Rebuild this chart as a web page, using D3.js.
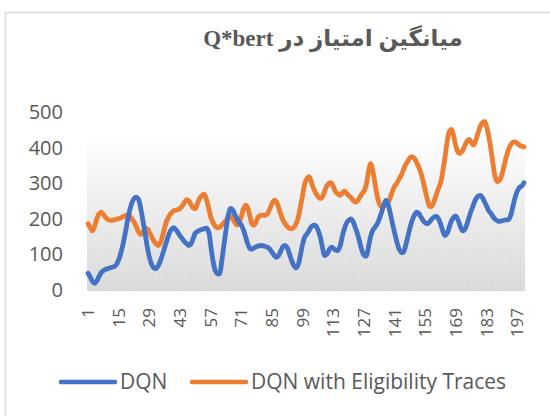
<!DOCTYPE html>
<html>
<head>
<meta charset="utf-8">
<script src="https://cdn.jsdelivr.net/npm/d3@7"></script>
<style>
  body { margin: 0; background: #fff; }
  svg { display: block; }
</style>
</head>
<body>
<div id="chart"></div>
<script>
var svgWidth = 550;
var svgHeight = 416;

// Chart values
var titleText = "میانگین امتیاز در Q*bert";
var seriesNames = ["DQN", "DQN with Eligibility Traces"];
var categories = d3.range(1, 201);
var yTicks = [0, 100, 200, 300, 400, 500];
var xTickLabels = [1, 15, 29, 43, 57, 71, 85, 99, 113, 127, 141, 155, 169, 183, 197];

var dqn = [
  47, 36, 24, 19, 26, 38, 49, 55, 58, 60,
  62, 64, 66, 72, 85, 105, 130, 160, 195, 224,
  245, 257, 261, 255, 230, 196, 160, 122, 92, 72,
  62, 60, 68, 82, 100, 120, 140, 158, 170, 175,
  170, 162, 152, 144, 136, 130, 125, 130, 145, 160,
  165, 168, 170, 172, 174, 165, 125, 83, 56, 46,
  46, 80, 125, 170, 210, 229, 225, 212, 200, 190,
  182, 168, 148, 128, 116, 115, 119, 122, 124, 125,
  124, 122, 120, 115, 106, 97, 92, 97, 110, 122,
  125, 118, 100, 82, 68, 62, 72, 100, 130, 150,
  158, 168, 178, 182, 180, 168, 149, 120, 97, 100,
  112, 120, 117, 112, 111, 122, 149, 172, 188, 196,
  200, 192, 175, 158, 135, 112, 98, 95, 120, 150,
  168, 176, 186, 200, 218, 238, 252, 240, 215, 186,
  160, 135, 115, 106, 106, 125, 150, 175, 196, 210,
  219, 215, 205, 195, 188, 186, 192, 200, 205, 207,
  200, 185, 165, 153, 160, 178, 195, 205, 207, 195,
  178, 166, 170, 185, 205, 224, 240, 255, 263, 266,
  260, 248, 235, 222, 215, 205, 198, 194, 193, 194,
  196, 197, 198, 210, 235, 260, 278, 288, 292, 301
];

var dqnTraces = [
  186, 175, 166, 180, 200, 214, 219, 212, 204, 198,
  196, 196, 197, 199, 200, 203, 206, 209, 210, 208,
  200, 191, 178, 164, 156, 162, 170, 172, 162, 149,
  138, 130, 125, 132, 152, 176, 196, 208, 216, 222,
  224, 226, 229, 236, 246, 254, 250, 240, 230, 229,
  244, 258, 266, 269, 255, 232, 205, 190, 180, 175,
  176, 182, 189, 196, 203, 207, 200, 190, 182, 190,
  208, 228, 238, 228, 205, 184, 183, 196, 208, 210,
  210, 210, 215, 228, 243, 252, 248, 232, 212, 196,
  186, 178, 173, 172, 176, 186, 205, 235, 268, 300,
  314, 318, 302, 284, 272, 262, 257, 262, 278, 292,
  300, 301, 290, 276, 270, 266, 272, 278, 272, 265,
  260, 252, 247, 250, 260, 270, 278, 295, 330, 355,
  335, 299, 265, 242, 233, 236, 240, 246, 260, 278,
  292, 300, 312, 322, 338, 352, 362, 372, 374, 370,
  358, 345, 328, 305, 278, 252, 235, 236, 250, 268,
  285, 302, 335, 374, 418, 446, 451, 430, 402, 386,
  384, 392, 405, 418, 423, 415, 407, 420, 440, 458,
  470, 473, 458, 430, 393, 350, 315, 304, 310, 325,
  350, 375, 395, 408, 415, 416, 412, 407, 404, 402
];

var colors = ["#4472C4", "#ED7D31"];

var margin = { top: 112, right: 25, bottom: 126, left: 87 };
var width = svgWidth - margin.left - margin.right;
var height = 290 - margin.top;

var svg = d3.select("#chart")
  .append("svg")
  .attr("width", svgWidth)
  .attr("height", svgHeight);

// outer chart border (only left and top edges fall inside the picture)
svg.append("rect")
  .attr("x", 5.5)
  .attr("y", 12.5)
  .attr("width", 600)
  .attr("height", 500)
  .attr("fill", "#fff")
  .attr("stroke", "#d9d9d9")
  .attr("stroke-width", 1.5);

svg.append("text")
  .attr("x", 333)
  .attr("y", 46)
  .attr("text-anchor", "middle")
  .attr("direction", "rtl")
  .attr("font-family", "'Liberation Serif', 'DejaVu Sans', serif")
  .attr("font-weight", "bold")
  .attr("font-size", 23)
  .attr("fill", "#595959")
  .text(titleText);

var chartGroup = svg.append("g")
  .attr("transform", `translate(${margin.left}, ${margin.top})`);

var xScale = d3.scaleBand()
  .domain(categories)
  .range([0, width]);

var yScale = d3.scaleLinear()
  .domain([0, 500])
  .range([height, 0]);

var xc = function(d) { return xScale(d) + xScale.bandwidth() / 2; };

// shaded plot backdrop
var defs = svg.append("defs");
var grad = defs.append("linearGradient")
  .attr("id", "bgGrad")
  .attr("x1", 0).attr("y1", 0).attr("x2", 0).attr("y2", 1);
grad.append("stop").attr("offset", "0%").attr("stop-color", "#ffffff");
grad.append("stop").attr("offset", "45%").attr("stop-color", "#ececec");
grad.append("stop").attr("offset", "100%").attr("stop-color", "#d6d6d6");

var bgTop = yScale(435);
chartGroup.append("rect")
  .attr("x", 0)
  .attr("y", bgTop)
  .attr("width", width)
  .attr("height", height - bgTop)
  .attr("fill", "url(#bgGrad)");

chartGroup.append("g")
  .selectAll("line")
  .data(categories)
  .enter()
  .append("line")
  .attr("x1", xc)
  .attr("x2", xc)
  .attr("y1", bgTop)
  .attr("y2", height)
  .attr("stroke", "#ffffff")
  .attr("stroke-opacity", 0.35)
  .attr("stroke-width", 0.8);

// axes
var bottomAxis = d3.axisBottom(xScale)
  .tickValues(xTickLabels)
  .tickSize(0)
  .tickPadding(0);
var xAxisG = chartGroup.append("g")
  .attr("transform", `translate(0, ${height})`)
  .call(bottomAxis);
xAxisG.select(".domain").attr("stroke", "#d9d9d9").attr("stroke-width", 1);
xAxisG.selectAll("text")
  .attr("transform", "rotate(-90)")
  .attr("x", -18)
  .attr("y", 0)
  .attr("dy", "0.35em")
  .attr("text-anchor", "end")
  .attr("font-family", "'Open Sans', 'Liberation Sans', sans-serif")
  .attr("font-size", 17)
  .attr("fill", "#595959");

var leftAxis = d3.axisLeft(yScale)
  .tickValues(yTicks)
  .tickSize(0)
  .tickPadding(24);
var yAxisG = chartGroup.append("g").call(leftAxis);
yAxisG.select(".domain").remove();
yAxisG.selectAll("text")
  .attr("font-family", "'Open Sans', 'Liberation Sans', sans-serif")
  .attr("font-size", 20)
  .attr("fill", "#595959");

// lines
var line = d3.line()
  .x(function(d, i) { return xc(categories[i]); })
  .y(function(d) { return yScale(d); })
  .curve(d3.curveCatmullRom.alpha(0.5));

[dqnTraces, dqn].forEach(function(series) {
  var idx = series === dqn ? 0 : 1;
  chartGroup.append("path")
    .datum(series)
    .attr("fill", "none")
    .attr("stroke", colors[idx])
    .attr("stroke-width", 4.8)
    .attr("stroke-linejoin", "round")
    .attr("stroke-linecap", "round")
    .attr("d", line);
});

// legend
var legendItems = [
  { name: seriesNames[0], color: colors[0], x: 61 },
  { name: seriesNames[1], color: colors[1], x: 192 }
];
var legend = svg.append("g").selectAll("g")
  .data(legendItems)
  .enter()
  .append("g")
  .attr("transform", function(d) { return `translate(${d.x}, 382)`; });
legend.append("line")
  .attr("x1", 0).attr("x2", 54)
  .attr("y1", 0).attr("y2", 0)
  .attr("stroke", function(d) { return d.color; })
  .attr("stroke-width", 4.5)
  .attr("stroke-linecap", "round");
legend.append("text")
  .attr("x", 59)
  .attr("y", 0)
  .attr("dy", "0.35em")
  .attr("font-family", "'Open Sans', 'Liberation Sans', sans-serif")
  .attr("font-size", 21)
  .attr("fill", "#595959")
  .text(function(d) { return d.name; });
</script>
</body>
</html>
